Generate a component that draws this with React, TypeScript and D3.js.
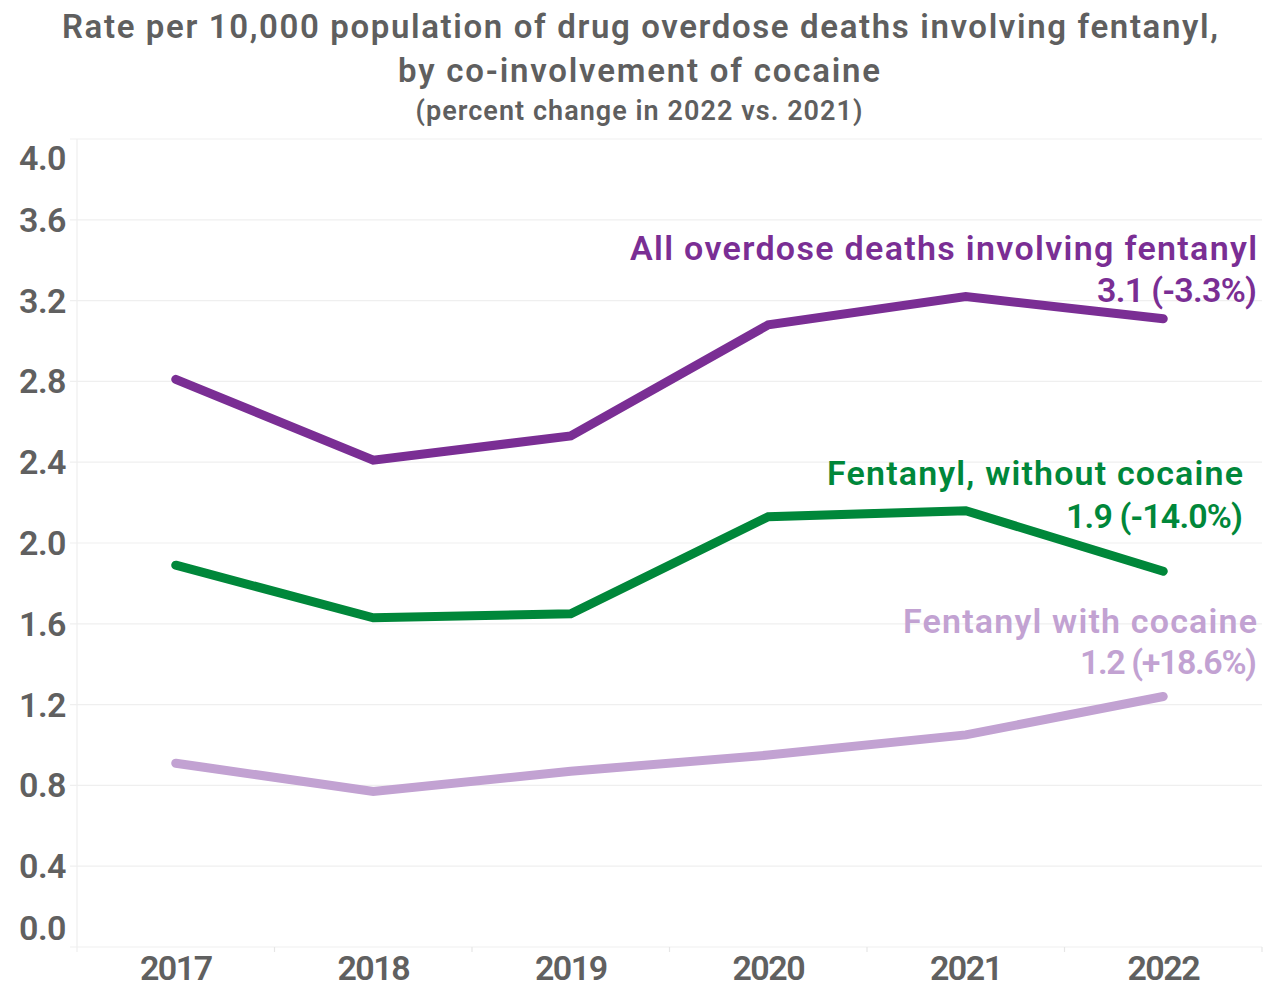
import React from "react";
import * as d3 from "d3";

const years = ["2017", "2018", "2019", "2020", "2021", "2022"];
const allFentanyl = [2.81, 2.41, 2.53, 3.08, 3.22, 3.11];
const withoutCocaine = [1.89, 1.63, 1.65, 2.13, 2.16, 1.86];
const withCocaine = [0.91, 0.77, 0.87, 0.95, 1.05, 1.24];
const yTicks = [0, 0.4, 0.8, 1.2, 1.6, 2.0, 2.4, 2.8, 3.2, 3.6, 4.0];

const seriesNames = ["All overdose deaths involving fentanyl", "Fentanyl, without cocaine", "Fentanyl with cocaine"];
const seriesNotes = ["3.1 (-3.3%)", "1.9 (-14.0%)", "1.2 (+18.6%)"];
const seriesColors = ["#7A2E94", "#00873A", "#C2A2D2"];

const FONT = "Roboto, 'DejaVu Sans', sans-serif";
const W = 1268;
const H = 995;

export default function App() {
  const x = d3.scaleBand<string>().domain(years).range([77, 1262]);
  const y = d3.scaleLinear().domain([0, 4]).range([947, 139]);
  const line = d3
    .line<number>()
    .x((_, i) => (x(years[i]) as number) + x.bandwidth() / 2)
    .y((d) => y(d));

  const series = [allFentanyl, withoutCocaine, withCocaine];
  const labelPos = [
    { x: 1257, y1: 260, y2: 302, w1: 627, w2: 160 },
    { x: 1243, y1: 485, y2: 528, w1: 416, w2: 177 },
    { x: 1257, y1: 633, y2: 674, w1: 354, w2: 177 },
  ];

  const tickLabelY = (v: number) => {
    const yy = y(v);
    if (v === 4) return yy + 31;
    if (v === 0) return yy - 7;
    return yy + 12;
  };

  return (
    <svg width={W} height={H} style={{ display: "block", position: "absolute", left: 0, top: 0 }}>
      <rect width={W} height={H} fill="#ffffff" />
      <g fontFamily={FONT} fill="#5f5f5f" textAnchor="middle" fontWeight={600}>
        <text x={640} y={38} fontSize={33} textLength={1156} lengthAdjust="spacing">
          Rate per 10,000 population of drug overdose deaths involving fentanyl,
        </text>
        <text x={639} y={82} fontSize={33} textLength={482} lengthAdjust="spacing">
          by co-involvement of cocaine
        </text>
        <text x={639} y={120} fontSize={27} textLength={447} lengthAdjust="spacing">
          (percent change in 2022 vs. 2021)
        </text>
      </g>
      {yTicks.map((t) => (
        <line key={"g" + t} x1={70} x2={1262} y1={y(t)} y2={y(t)} stroke="#efefef" strokeWidth={1.2} />
      ))}
      <line x1={77} x2={77} y1={139} y2={952} stroke="#efefef" strokeWidth={1.2} />
      {[...years.map((yr) => x(yr) as number), 1262].map((bx, i) =>
        i === 0 ? null : <line key={"tk" + i} x1={bx} x2={bx} y1={947} y2={952} stroke="#e6e6e6" strokeWidth={1.2} />
      )}
      <g fontFamily={FONT} fill="#606060" fontSize={34} fontWeight={600}>
        {yTicks.map((t) => (
          <text key={"yt" + t} x={66} y={tickLabelY(t)} textAnchor="end" letterSpacing={-0.5}>
            {t.toFixed(1)}
          </text>
        ))}
        {years.map((yr) => (
          <text key={yr} x={(x(yr) as number) + x.bandwidth() / 2} y={980} textAnchor="middle" letterSpacing={-1.5}>
            {yr}
          </text>
        ))}
      </g>
      {series.map((s, i) => (
        <path
          key={"s" + i}
          d={line(s) || ""}
          fill="none"
          stroke={seriesColors[i]}
          strokeWidth={9}
          strokeLinecap="round"
          strokeLinejoin="miter"
        />
      ))}
      {series.map((_, i) => (
        <g key={"lab" + i} fontFamily={FONT} fontSize={34} fontWeight={600} fill={seriesColors[i]} textAnchor="end">
          <text x={labelPos[i].x} y={labelPos[i].y1} textLength={labelPos[i].w1} lengthAdjust="spacing">
            {seriesNames[i]}
          </text>
          <text x={labelPos[i].x} y={labelPos[i].y2} textLength={labelPos[i].w2} lengthAdjust="spacing">
            {seriesNotes[i]}
          </text>
        </g>
      ))}
    </svg>
  );
}
